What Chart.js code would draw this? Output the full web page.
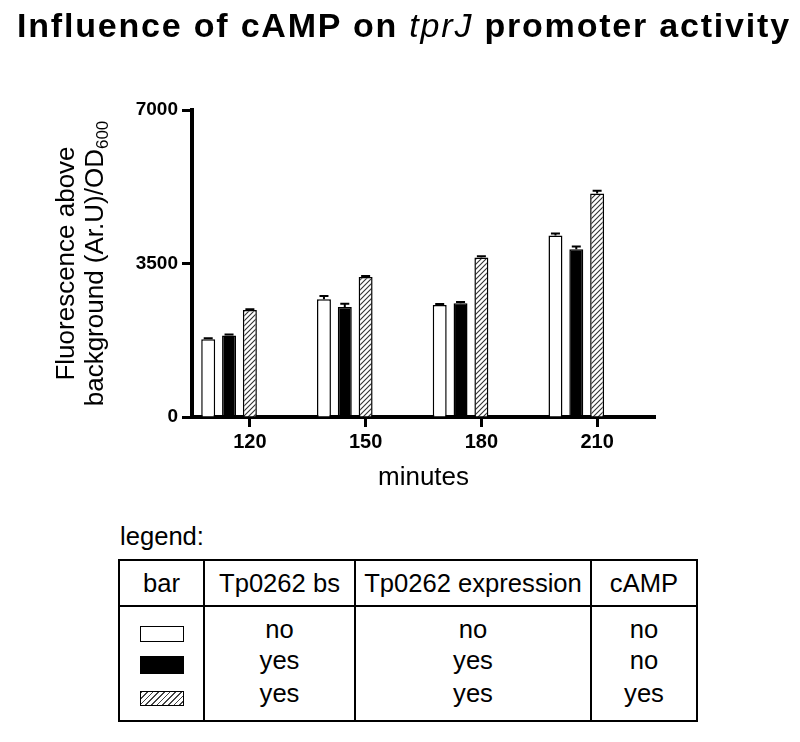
<!DOCTYPE html>
<html>
<head>
<meta charset="utf-8">
<script src="https://cdn.jsdelivr.net/npm/chart.js@4.4.1/dist/chart.umd.min.js"></script>
<style>
  body { margin: 0; background: #fff; font-family: "Liberation Sans", Arial, sans-serif; color: #000; }
  #wrap { position: relative; width: 800px; height: 742px; overflow: hidden; }
  #chart { position: absolute; left: 0; top: 0; }
  #title { position: absolute; left: 17px; top: 8px; font-size: 34px; line-height: 34px; font-weight: bold; letter-spacing: 1.8px; white-space: nowrap; }
  #title i { font-weight: normal; }
  #legLabel { position: absolute; left: 120px; top: 523px; font-size: 25.6px; line-height: 26px; }
  #legend { position: absolute; left: 118px; top: 559px; border-collapse: collapse; table-layout: fixed; font-size: 25.6px; }
  #legend td, #legend th { border: 2px solid #000; text-align: center; padding: 0; font-weight: normal; vertical-align: top; }
  #legend th { height: 44px; vertical-align: middle; }
  #legend .body { padding-top: 7px; height: 106px; }
  .l1 { height: 30px; line-height: 30px; }
  .l2 { height: 32px; line-height: 32px; }
  .l3 { height: 34px; line-height: 34px; }
  .sw { display: inline-block; width: 44px; box-sizing: border-box; border: 1.5px solid #000; vertical-align: middle; }
</style>
</head>
<body>
<div id="wrap">
  <canvas id="chart" width="800" height="500"></canvas>
  <div id="title">Influence of cAMP on <i>tprJ</i> promoter activity</div>
  <div id="legLabel">legend:</div>
  <table id="legend">
    <colgroup><col style="width:85px"><col style="width:151px"><col style="width:236px"><col style="width:106px"></colgroup>
    <tr><th>bar</th><th>Tp0262 bs</th><th>Tp0262 expression</th><th>cAMP</th></tr>
    <tr>
      <td class="body">
        <div class="l1"><span class="sw" style="height:16px;background:#fff;margin-top:6px"></span></div>
        <div class="l2"><span class="sw" style="height:18px;background:#000;margin-top:6px"></span></div>
        <div class="l3"><span class="sw" style="height:15px;margin-top:6px;background:repeating-linear-gradient(135deg,#444 0 1px,#fff 1px 4px)"></span></div>
      </td>
      <td class="body"><div class="l1">no</div><div class="l2">yes</div><div class="l3">yes</div></td>
      <td class="body"><div class="l1">no</div><div class="l2">yes</div><div class="l3">yes</div></td>
      <td class="body"><div class="l1">no</div><div class="l2">no</div><div class="l3">yes</div></td>
    </tr>
  </table>
</div>
<script>
// --- data ---
const minutes = ["120", "150", "180", "210"];
const noBsNoCamp = [1773, 2686, 2556, 4140];   // open bars
const bsNoCamp = [1858, 2510, 2595, 3827];     // black bars
const bsCamp = [2442, 3195, 3638, 5098];       // hatched bars
const errNoBsNoCamp = [25, 75, 20, 45];
const errBsNoCamp = [25, 75, 30, 60];
const errBsCamp = [15, 20, 30, 60];
const yTicks = [0, 3500, 7000];

const FONT = "'Liberation Sans', Arial, sans-serif";
const canvas = document.getElementById("chart");
const ctx = canvas.getContext("2d");

// diagonal hatch for the cAMP bars
function makeHatch() {
    const c = document.createElement("canvas");
    c.width = 5; c.height = 5;
    const g = c.getContext("2d");
    g.fillStyle = "#fff";
    g.fillRect(0, 0, 5, 5);
    g.strokeStyle = "#333";
    g.lineWidth = 1.1;
    g.beginPath();
    g.moveTo(0, 5); g.lineTo(5, 0);
    g.moveTo(-1, 1); g.lineTo(1, -1);
    g.moveTo(4, 6); g.lineTo(6, 4);
    g.stroke();
    return ctx.createPattern(c, "repeat");
}

// upper error bars
const errorBars = {
    id: "errorBars",
    afterDatasetsDraw(chart) {
        const c = chart.ctx;
        const yScale = chart.scales.y;
        c.save();
        c.strokeStyle = "#000";
        c.lineWidth = 2;
        chart.data.datasets.forEach((ds, i) => {
            if (!ds.err) return;
            chart.getDatasetMeta(i).data.forEach((bar, j) => {
                const yTop = yScale.getPixelForValue(ds.data[j] + ds.err[j]);
                c.beginPath();
                c.moveTo(bar.x, bar.y);
                c.lineTo(bar.x, yTop);
                c.moveTo(bar.x - 4.5, yTop);
                c.lineTo(bar.x + 4.5, yTop);
                c.stroke();
            });
        });
        c.restore();
    }
};

// two-line y title with subscript
const yTitle = {
    id: "yTitle",
    afterDraw(chart) {
        const c = chart.ctx;
        const a = chart.chartArea;
        const cy = (a.top + a.bottom) / 2;
        c.save();
        c.fillStyle = "#000";
        c.textBaseline = "middle";
        c.font = "26px " + FONT;
        c.save();
        c.translate(67, cy);
        c.rotate(-Math.PI / 2);
        c.textAlign = "center";
        c.fillText("Fluorescence above", 0, 0);
        c.restore();

        const main = "background (Ar.U)/OD";
        const sub = "600";
        c.font = "26px " + FONT;
        const w1 = c.measureText(main).width;
        c.font = "17px " + FONT;
        const w2 = c.measureText(sub).width;
        c.translate(96, cy);
        c.rotate(-Math.PI / 2);
        c.textAlign = "left";
        c.font = "26px " + FONT;
        c.fillText(main, -(w1 + w2) / 2, 0);
        c.font = "17px " + FONT;
        c.fillText(sub, -(w1 + w2) / 2 + w1, 7);
        c.restore();
    }
};

const barStyle = { borderColor: "#000", borderWidth: 1.5, categoryPercentage: 0.9, barPercentage: 0.67 };

new Chart(ctx, {
    type: "bar",
    data: {
        labels: minutes,
        datasets: [
            { label: "no bs, no cAMP", data: noBsNoCamp, err: errNoBsNoCamp, backgroundColor: "#fff", ...barStyle },
            { label: "bs, no cAMP", data: bsNoCamp, err: errBsNoCamp, backgroundColor: "#000", ...barStyle },
            { label: "bs, cAMP", data: bsCamp, err: errBsCamp, backgroundColor: makeHatch(), ...barStyle },
            // empty slots so the group sits left of the tick, as in the original
            { label: "", data: [], ...barStyle },
            { label: "", data: [], ...barStyle }
        ]
    },
    options: {
        responsive: false,
        animation: false,
        layout: { padding: { top: 110, right: 145, left: 0, bottom: 0 } },
        plugins: { legend: { display: false }, tooltip: { enabled: false } },
        scales: {
            x: {
                afterFit: s => { s.height = 83; },
                grid: { drawOnChartArea: false, drawTicks: true, tickLength: 10, tickWidth: 3, tickColor: "#000", offset: false },
                border: { color: "#000", width: 4 },
                ticks: { color: "#000", padding: 3, maxRotation: 0, font: { family: FONT, size: 20, weight: "bold" } },
                title: { display: true, text: "minutes", color: "#000", font: { family: FONT, size: 26 }, padding: { top: 0, bottom: 7 } }
            },
            y: {
                min: 0,
                max: 7000,
                afterFit: s => { s.width = 192; },
                afterBuildTicks: s => { s.ticks = yTicks.map(v => ({ value: v })); },
                grid: { drawOnChartArea: false, drawTicks: true, tickLength: 10, tickWidth: 3, tickColor: "#000" },
                border: { color: "#000", width: 4 },
                ticks: { color: "#000", padding: 4, callback: v => String(v), font: { family: FONT, size: 19, weight: "bold" } }
            }
        }
    },
    plugins: [errorBars, yTitle]
});
</script>
</body>
</html>
